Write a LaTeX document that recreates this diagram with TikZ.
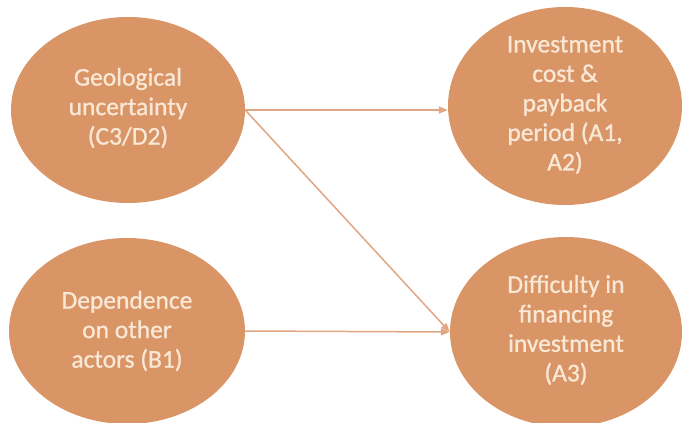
\documentclass[tikz,border=0pt]{standalone}
\usepackage{fontspec}
\setmainfont{Carlito}
\newfontfamily\blobfont[FakeBold=0.9]{Carlito}
\usetikzlibrary{shapes.geometric,arrows.meta}
\definecolor{blobfill}{RGB}{217,149,102}
\definecolor{blobtext}{RGB}{250,232,215}
\definecolor{arrowcol}{RGB}{225,166,130}
\tikzset{
  blob/.style={ellipse, fill=blobfill, draw=none, inner sep=0pt},
  blobtxt/.style={text=blobtext, align=center, font=\blobfont\fontsize{25.5}{29.5}\selectfont, inner sep=0pt},
  link/.style={draw=arrowcol, line width=1.5pt, -{Triangle[length=9pt,width=7pt]}}
}
\begin{document}
\begin{tikzpicture}[x=1pt,y=-1pt]
\useasboundingbox (0,0) rectangle (683,423);
\node[blob, minimum width=234pt, minimum height=186pt] (geo) at (128,110) {};
\node[blob, minimum width=234pt, minimum height=198pt] (inv) at (565,106) {};
\node[blob, minimum width=236pt, minimum height=186pt] (dep) at (127,331) {};
\node[blob, minimum width=232pt, minimum height=190pt] (fin) at (566,332) {};
\node[blobtxt] (geot) at (128,108) {Geological\\uncertainty\\(C3/D2)};
\node[blobtxt] (invt) at (565,105) {Investment\\cost \&\\payback\\period (A1,\\A2)};
\node[blobtxt] (dept) at (127,331) {Dependence\\on other\\actors (B1)};
\node[blobtxt] (fint) at (566,330) {Difficulty in\\financing\\investment\\(A3)};
\draw[link] (geo.east) -- (geo.east -| inv.west);
\draw[link] (geo.east) -- (fin.west);
\draw[link] (dep.east) -- (fin.west);
\end{tikzpicture}
\end{document}
